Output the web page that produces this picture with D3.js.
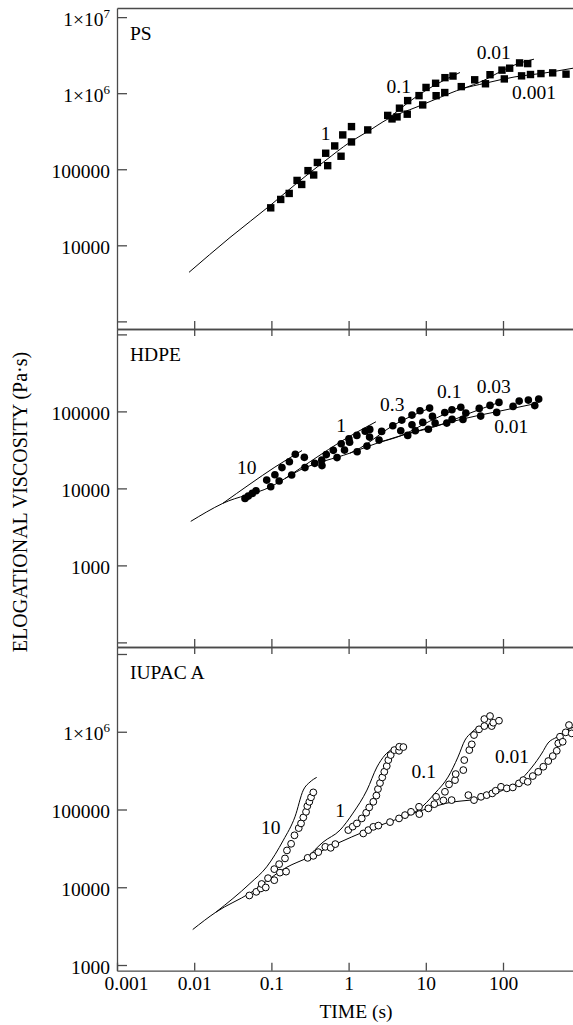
<!DOCTYPE html>
<html>
<head>
<meta charset="utf-8">
<script src="https://cdn.jsdelivr.net/npm/d3@7"></script>
<style>
  body { margin: 0; background: #fff; }
  svg text { font-family: "Liberation Serif", "Times New Roman", serif; }
</style>
</head>
<body>
<svg></svg>
<script>
// clear the svg
d3.selectAll("svg > *").remove();

/*
 * Data: [time (s), elongational viscosity (Pa.s)]
 */

// PS, filled squares, one set per strain rate (1/s)
const psRate1 = [[0.098, 31100], [0.132, 40100], [0.170, 48100], [0.215, 71300], [0.298, 95900],
  [0.394, 122800], [0.505, 162400], [0.661, 202600], [0.84, 282700], [1.09, 363600]];
const psRate01 = [[0.247, 63100], [0.353, 84100], [0.536, 111500], [0.798, 148300], [1.09, 228700],
  [1.77, 328900], [3.21, 510500], [4.56, 635000], [5.82, 799000], [8.17, 929000], [10.07, 1.19e6],
  [13.4, 1.35e6], [17.7, 1.60e6], [22.5, 1.68e6]];
const psRate001 = [[3.65, 459000], [4.24, 487700], [5.75, 529500], [9.12, 701000], [13.6, 927000],
  [17.6, 1.02e6], [28.8, 1.22e6], [43, 1.50e6], [67.9, 1.75e6], [97, 2.01e6], [122, 2.13e6],
  [164, 2.50e6], [209, 2.45e6]];
const psRate0001 = [[59.3, 1.33e6], [104, 1.54e6], [174, 1.69e6], [227, 1.76e6], [310, 1.81e6],
  [440, 1.85e6], [655, 1.78e6]];

// PS, model curves
const psCurveBase = [[0.00857, 4415], [0.0291, 12670], [0.098, 33900], [0.215, 66000], [0.494, 128600],
  [1.04, 226500], [1.78, 314300], [3.24, 459000], [7.69, 660000], [15.3, 881000], [29.4, 1.14e6],
  [58.5, 1.35e6], [143, 1.64e6], [330, 1.83e6], [807, 2.13e6]];
const psCurve01 = [[3.24, 459000], [7.46, 894000], [11.3, 1.17e6], [17.7, 1.50e6], [27.7, 1.87e6]];
const psCurve001 = [[29.4, 1.14e6], [58.5, 1.50e6], [91.4, 1.91e6], [143, 2.36e6], [252, 2.80e6]];

// HDPE, filled circles
const hdRate10 = [[0.0455, 7410], [0.0502, 7940], [0.0566, 8610], [0.0632, 9310], [0.0869, 12820],
  [0.111, 15020], [0.137, 18620], [0.171, 22150], [0.204, 27730]];
const hdRate1 = [[0.098, 10490], [0.126, 12450], [0.183, 14890], [0.267, 25290], [0.364, 21130],
  [0.449, 23330], [0.514, 27480], [0.634, 31190], [0.802, 37930], [1.01, 43950], [1.28, 48780],
  [1.64, 55150], [1.88, 58340]];
const hdRate03 = [[0.272, 18620], [0.452, 19770], [0.708, 25120], [0.885, 31440], [1.03, 39720],
  [1.87, 46360], [2.68, 54950], [3.74, 65020], [4.89, 77090], [6.62, 89540], [8.41, 101800],
  [11.2, 110400]];
const hdRate01 = [[1.29, 29850], [1.73, 35400], [2.48, 42380], [4.74, 55980], [6.62, 66990],
  [9.14, 71940], [12.2, 86100], [17.6, 96400], [21.8, 105000], [28.4, 113000]];
const hdRate003 = [[5.83, 48780], [7.31, 55980], [13.2, 70500], [18.7, 70500], [33.0, 95000],
  [49.2, 109400], [67.9, 119700], [88.7, 130900]];
const hdRate001 = [[10.8, 58600], [21.9, 78700], [30.3, 78700], [51.4, 86900], [82.8, 97000],
  [135, 116100], [162, 136100], [213, 140200], [258, 118900], [290, 144500]];

// HDPE, model curves
const hdCurveBase = [[0.00902, 3730], [0.0234, 6380], [0.096, 10400], [0.234, 17300], [1.04, 28700],
  [2.55, 39900], [6.24, 52300], [20.6, 72600], [50.4, 89500], [91.4, 101000], [284, 128200]];
const hdCurve10 = [[0.0234, 6380], [0.0528, 11380], [0.111, 18900], [0.249, 31000]];
const hdCurve1 = [[0.150, 13400], [0.390, 25500], [0.774, 39900], [2.26, 73300]];
const hdCurve03 = [[1.04, 28700], [1.41, 33400], [3.65, 64400], [11.3, 110400]];
const hdCurve01 = [[2.55, 39900], [4.63, 47800], [11.3, 74800], [29.4, 117200]];
const hdCurve003 = [[6.24, 52300], [15.3, 66400], [37.4, 95100], [91.4, 132100]];

// IUPAC A, open circles
const iuRate10 = [[0.0518, 7840], [0.0637, 8730], [0.0730, 9660], [0.0748, 11020], [0.0904, 13090],
  [0.109, 17100], [0.126, 19820], [0.150, 23490], [0.159, 29760], [0.180, 36220], [0.199, 46560],
  [0.226, 57630], [0.242, 66220], [0.259, 79070], [0.281, 93330], [0.292, 110600], [0.310, 125600],
  [0.326, 143200], [0.349, 166000]];
const iuRate1 = [[0.0845, 9940], [0.109, 12330], [0.129, 15420], [0.155, 15880], [0.295, 23880],
  [0.349, 25350], [0.405, 28310], [0.499, 33110], [0.586, 32150], [0.673, 35890], [0.99, 54330],
  [1.13, 60260], [1.28, 66220], [1.48, 76770], [1.69, 90780], [1.85, 106400], [2.09, 125600],
  [2.29, 151000], [2.40, 183200], [2.55, 218800], [2.73, 258800], [2.90, 305500], [3.12, 362000],
  [3.27, 432200], [3.51, 501200], [3.91, 580800], [4.50, 569000], [4.53, 641200], [5.12, 635300]];
const iuRate01 = [[1.55, 49200], [1.80, 54330], [2.09, 59840], [2.43, 62090], [3.44, 68870],
  [4.50, 76770], [5.38, 84720], [6.43, 93330], [8.17, 108400], [13.6, 145600], [17.7, 169000],
  [20.0, 210400], [23.9, 238800], [24.4, 285600], [30.6, 321400], [31.5, 432200], [36.6, 580800],
  [39.4, 688600], [42.1, 907100], [48.9, 1.074e6], [57.3, 1.183e6], [57.3, 1.456e6], [67.9, 1.592e6],
  [71.4, 1.183e6], [74.8, 1.306e6], [88.7, 1.386e6]];
const iuRate001 = [[8.24, 87300], [10.8, 103300], [12.9, 117200], [16.9, 130900], [21.6, 132100],
  [35.6, 153100], [42.1, 132100], [51.9, 145600], [61.5, 153100], [72.6, 161100], [80.4, 174200],
  [94.2, 195900], [112, 187100], [134, 192300], [161, 216800], [183, 238800], [209, 227000],
  [243, 269200], [286, 305500], [333, 354800], [386, 419800], [441, 486400], [497, 569000],
  [520, 709600], [547, 862900], [593, 743000], [649, 982000], [716, 1.219e6], [776, 953000]];

// IUPAC A, model curves
const iuCurveBase = [[0.00957, 2860], [0.0191, 4780], [0.0528, 8400], [0.159, 18150], [0.289, 23700],
  [0.774, 38000], [1.54, 51200], [4.63, 77500], [18.8, 120800], [62.1, 144500], [106, 183200],
  [156, 225400], [238, 351600], [320, 532000], [383, 716000], [500, 855000], [675, 1.05e6],
  [832, 1.15e6]];
const iuCurve10 = [[0.0191, 4780], [0.0528, 11190], [0.0869, 18300], [0.143, 40400], [0.202, 80500],
  [0.259, 177800], [0.316, 225400], [0.386, 258800]];
const iuCurve1 = [[0.289, 23700], [0.466, 38000], [0.774, 54300], [1.14, 89900], [1.73, 177800],
  [2.33, 351600], [2.96, 501000], [3.65, 599000], [4.36, 654600]];
const iuCurve01 = [[4.63, 77500], [7.93, 98200], [13.2, 162600], [19.4, 261200], [26.1, 472100],
  [32.2, 781600], [39.6, 991000], [47.4, 1.15e6]];

// strain rate labels: [text, time, viscosity]
const psRateLabels = [["1", 0.505, 243000], ["0.1", 4.47, 1e6], ["0.01", 75.8, 2.8e6], ["0.001", 252, 834000]];
const hdRateLabels = [["10", 0.048, 15200], ["1", 0.80, 54300], ["0.3", 3.67, 101800],
  ["0.1", 20.1, 147500], ["0.03", 76.0, 174500], ["0.01", 128, 51800]];
const iuRateLabels = [["10", 0.098, 47800], ["1", 0.774, 80500], ["0.1", 9.42, 251000], ["0.01", 131, 399000]];

// axis ticks
const timeTicks = [0.001, 0.01, 0.1, 1, 10, 100];
const timeTickLabels = ["0.001", "0.01", "0.1", "1", "10", "100"];
const psTicks = [1e3, 1e4, 1e5, 1e6, 1e7];
const psTickLabels = ["", "10000", "100000", "1×10^6", "1×10^7"];
const hdTicks = [1e2, 1e3, 1e4, 1e5, 1e6];
const hdTickLabels = ["", "1000", "10000", "100000", ""];
const iuTicks = [1e3, 1e4, 1e5, 1e6, 1e7];
const iuTickLabels = ["1000", "10000", "100000", "1×10^6", ""];

/*
 * Layout constants
 */
const SVG_WIDTH = 573;
const SVG_HEIGHT = 1025;
const PLOT_LEFT = 117;
const DECADE = 77.2;
const FONT_SIZE = 19.5;
const AXIS_COLOR = "#4a4a4a";

const svg = d3.select("svg").attr("width", SVG_WIDTH).attr("height", SVG_HEIGHT);

const x = d3.scaleLog().domain([0.001, 1000]).range([PLOT_LEFT, PLOT_LEFT + 6 * DECADE]);

const panels = [
  { name: "PS", top: 8, bottom: 329, yDomain: [794, 1.318e7], ticks: psTicks, tickLabels: psTickLabels,
    marker: "square", series: [psRate1, psRate01, psRate001, psRate0001],
    curves: [psCurveBase, psCurve01, psCurve001], rateLabels: psRateLabels, topTicks: false },
  { name: "HDPE", top: 329, bottom: 647, yDomain: [87.1, 1.175e6], ticks: hdTicks, tickLabels: hdTickLabels,
    marker: "dot", series: [hdRate10, hdRate1, hdRate03, hdRate01, hdRate003, hdRate001],
    curves: [hdCurveBase, hdCurve10, hdCurve1, hdCurve03, hdCurve01, hdCurve003], rateLabels: hdRateLabels, topTicks: true },
  { name: "IUPAC A", top: 647, bottom: 970.7, yDomain: [845, 1.23e7], ticks: iuTicks, tickLabels: iuTickLabels,
    marker: "ring", series: [iuRate10, iuRate1, iuRate01, iuRate001],
    curves: [iuCurveBase, iuCurve10, iuCurve1, iuCurve01], rateLabels: iuRateLabels, topTicks: true, last: true }
];

function styleAxis(g) {
  g.selectAll("path, line").attr("stroke", AXIS_COLOR).attr("stroke-width", 1.3);
  g.selectAll("text").attr("font-size", FONT_SIZE).attr("fill", "#000")
    .attr("font-family", '"Liberation Serif", "Times New Roman", serif');
}

function drawPanel(p) {
  const y = d3.scaleLog().domain(p.yDomain).range([p.bottom, p.top]);
  const g = svg.append("g");

  // model curves
  const line = d3.line().x(d => x(d[0])).y(d => y(d[1])).curve(d3.curveMonotoneX);
  p.curves.forEach(c => {
    g.append("path")
      .attr("d", line(c))
      .attr("fill", "none")
      .attr("stroke", "#000")
      .attr("stroke-width", 1);
  });

  // data points
  p.series.forEach(s => {
    if (p.marker === "square") {
      g.selectAll(null).data(s).enter().append("rect")
        .attr("x", d => x(d[0]) - 3.7)
        .attr("y", d => y(d[1]) - 3.7)
        .attr("width", 7.4)
        .attr("height", 7.4)
        .attr("fill", "#000");
    } else {
      g.selectAll(null).data(s).enter().append("circle")
        .attr("cx", d => x(d[0]))
        .attr("cy", d => y(d[1]))
        .attr("r", p.marker === "dot" ? 3.8 : 3.4)
        .attr("fill", p.marker === "dot" ? "#000" : "#fff")
        .attr("stroke", "#000")
        .attr("stroke-width", p.marker === "dot" ? 0 : 1);
    }
  });

  // strain rate labels
  g.selectAll(null).data(p.rateLabels).enter().append("text")
    .attr("x", d => x(d[1]))
    .attr("y", d => y(d[2]))
    .attr("text-anchor", "middle")
    .attr("font-size", FONT_SIZE)
    .text(d => d[0]);

  // material name
  g.append("text")
    .attr("x", PLOT_LEFT + 13)
    .attr("y", p.top + 32)
    .attr("font-size", FONT_SIZE)
    .text(p.name);

  // y axis, ticks pointing inward
  const yAxis = d3.axisLeft(y)
    .tickValues(p.ticks)
    .tickSizeInner(-10)
    .tickSizeOuter(0)
    .tickPadding(7)
    .tickFormat((d, i) => p.tickLabels[i]);
  const ya = g.append("g").attr("transform", `translate(${PLOT_LEFT},0)`).call(yAxis);
  styleAxis(ya);
  ya.selectAll("text").attr("dy", "0.42em").each(function(d, i) {
    const lab = p.tickLabels[i];
    if (lab.includes("^")) {
      const [base, exp] = lab.split("^");
      const t = d3.select(this).text("");
      t.append("tspan").text(base);
      t.append("tspan").attr("dy", -8).attr("font-size", 13).text(exp);
    }
  });

  // bottom axis of the panel
  const xb = d3.axisBottom(x)
    .tickValues(p.last ? timeTicks : timeTicks.slice(1))
    .tickSizeInner(-8)
    .tickSizeOuter(0)
    .tickFormat((d, i) => p.last ? timeTickLabels[i] : "");
  const xa = g.append("g").attr("transform", `translate(0,${p.bottom})`).call(xb);
  styleAxis(xa);
  xa.selectAll("text").attr("y", 19).attr("dy", 0);
  if (p.last) xa.selectAll("text").filter(d => d === 0.001).attr("x", 9);

  // top axis of the panel
  const xt = d3.axisTop(x)
    .tickValues(p.topTicks ? timeTicks.slice(1) : [])
    .tickSizeInner(-7)
    .tickSizeOuter(0)
    .tickFormat("");
  const xta = g.append("g").attr("transform", `translate(0,${p.top})`).call(xt);
  styleAxis(xta);
}

panels.forEach(drawPanel);

// axis titles
svg.append("text")
  .attr("transform", "translate(26.5,502) rotate(-90)")
  .attr("text-anchor", "middle")
  .attr("font-size", 20)
  .text("ELOGATIONAL VISCOSITY (Pa·s)");

svg.append("text")
  .attr("x", 356)
  .attr("y", 1018)
  .attr("text-anchor", "middle")
  .attr("font-size", FONT_SIZE)
  .text("TIME (s)");
</script>
</body>
</html>
